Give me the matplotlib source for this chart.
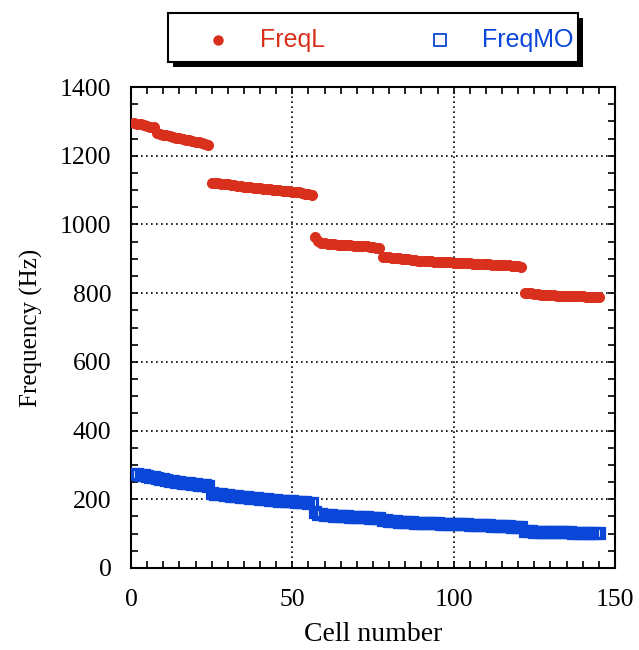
import matplotlib
matplotlib.use("Agg")
import matplotlib.pyplot as plt
from matplotlib.patches import Rectangle
from matplotlib.ticker import MultipleLocator

# ---- data ----
cells = list(range(1, 146))

freq_l = [
    # cells 1-24
    1295, 1293, 1291, 1289, 1287, 1285, 1283, 1266, 1263, 1261, 1259, 1257,
    1255, 1253, 1251, 1249, 1247, 1245, 1243, 1241, 1239, 1237, 1235, 1231,
    # cells 25-56
    1121, 1120, 1120, 1119, 1118, 1117, 1116, 1115, 1113, 1111, 1110, 1109,
    1108, 1107, 1106, 1105, 1104, 1103, 1102, 1101, 1100, 1099, 1098, 1097,
    1096, 1095, 1094, 1093, 1092, 1090, 1088, 1085,
    # cells 57-77
    962, 952, 946, 945, 944, 943, 942, 941, 940, 940, 939, 939,
    938, 938, 937, 937, 936, 935, 933, 931, 930,
    # cells 78-121
    906, 905, 904, 903, 902, 901, 900, 899, 898, 897, 896, 895,
    895, 894, 893, 893, 892, 892, 891, 891, 890, 890, 889, 889,
    888, 888, 887, 887, 886, 886, 885, 885, 884, 884, 883, 883,
    882, 882, 881, 881, 880, 879, 878, 877,
    # cells 122-145
    800, 799, 799, 798, 797, 796, 795, 795, 794, 794, 793, 793,
    793, 792, 792, 792, 791, 791, 791, 790, 790, 790, 790, 789,
]

freq_mo = [
    # cells 1-24
    275, 273, 272, 270, 268, 266, 264, 262, 260, 258, 256, 254,
    252, 250, 249, 248, 247, 246, 245, 244, 243, 242, 241, 240,
    # cells 25-56
    217, 216, 215, 214, 213, 212, 211, 210, 209, 208, 207, 206,
    205, 204, 203, 202, 201, 200, 199, 198, 197, 196, 195, 195,
    194, 194, 193, 193, 192, 191, 190, 188,
    # cells 57-77
    162, 158, 156, 155, 154, 153, 152, 151, 151, 150, 150, 149,
    149, 148, 148, 147, 147, 146, 146, 145, 145,
    # cells 78-121
    140, 139, 138, 137, 136, 135, 134, 134, 133, 133, 132, 132,
    131, 131, 131, 130, 130, 130, 129, 129, 129, 128, 128, 128,
    127, 127, 127, 126, 126, 126, 125, 125, 124, 124, 123, 123,
    122, 122, 121, 121, 120, 120, 119, 118,
    # cells 122-145
    108, 107, 107, 106, 106, 106, 105, 105, 105, 105, 104, 104,
    104, 104, 104, 103, 103, 103, 103, 103, 103, 103, 103, 103,
]

x_ticks = [0, 50, 100, 150]
y_ticks = [0, 200, 400, 600, 800, 1000, 1200, 1400]

RED = "#d8301c"
BLUE = "#0a46d8"

plt.rcParams["font.family"] = ["Liberation Serif", "DejaVu Serif"]

W, H = 639, 650
fig = plt.figure(figsize=(W / 100, H / 100), dpi=100)
ax = fig.add_axes([131 / W, 1 - 568 / H, (615 - 131) / W, (568 - 87) / H])

ax.plot(cells, freq_l, linestyle="none", marker="o", markersize=8,
        color=RED, markeredgewidth=0, zorder=3)
ax.plot(cells, freq_mo, linestyle="none", marker="s", markersize=7,
        markerfacecolor="none", markeredgecolor=BLUE, markeredgewidth=2.3,
        zorder=3)

ax.set_xlim(0, 150)
ax.set_ylim(0, 1400)
ax.set_xticks(x_ticks)
ax.set_yticks(y_ticks)
ax.xaxis.set_minor_locator(MultipleLocator(5))
ax.yaxis.set_minor_locator(MultipleLocator(50))
ax.tick_params(which="both", direction="in", top=True, right=True,
               labelsize=18.5, width=1.2, length=5)
ax.tick_params(axis="x", which="major", pad=15)
ax.tick_params(axis="y", which="major", pad=14)
ax.grid(True, which="major", color="black", linestyle=(0, (1, 2)), linewidth=1.2)
for s in ax.spines.values():
    s.set_linewidth(1.5)

ax.set_xlabel("Cell number", fontsize=20, labelpad=8)
ax.set_ylabel("Frequency (Hz)", fontsize=18, labelpad=12)

# ---- legend box with shadow ----
lx0, lx1, ly0, ly1 = 168, 578, 13, 62
shadow = Rectangle(((lx0 + 5) / W, 1 - (ly1 + 5) / H), (lx1 - lx0) / W, (ly1 - ly0) / H,
                   transform=fig.transFigure, facecolor="black", edgecolor="none", zorder=1)
fig.patches.append(shadow)
lax = fig.add_axes([lx0 / W, 1 - ly1 / H, (lx1 - lx0) / W, (ly1 - ly0) / H], zorder=2)
lax.set_xlim(lx0, lx1)
lax.set_ylim(ly1, ly0)
lax.set_xticks([])
lax.set_yticks([])
for s in lax.spines.values():
    s.set_linewidth(1.5)
lax.plot([218], [40], marker="o", markersize=7.5, color=RED, markeredgewidth=0)
lax.plot([440], [40], marker="s", markersize=8.5, markerfacecolor="none",
         markeredgecolor=BLUE, markeredgewidth=1.3)
lax.text(260, 40, "FreqL", color=RED, fontsize=18, va="center", ha="left",
         family=["Liberation Sans", "DejaVu Sans"])
lax.text(482, 40, "FreqMO", color=BLUE, fontsize=18, va="center", ha="left",
         family=["Liberation Sans", "DejaVu Sans"])

fig.savefig("out.png", dpi=100)
